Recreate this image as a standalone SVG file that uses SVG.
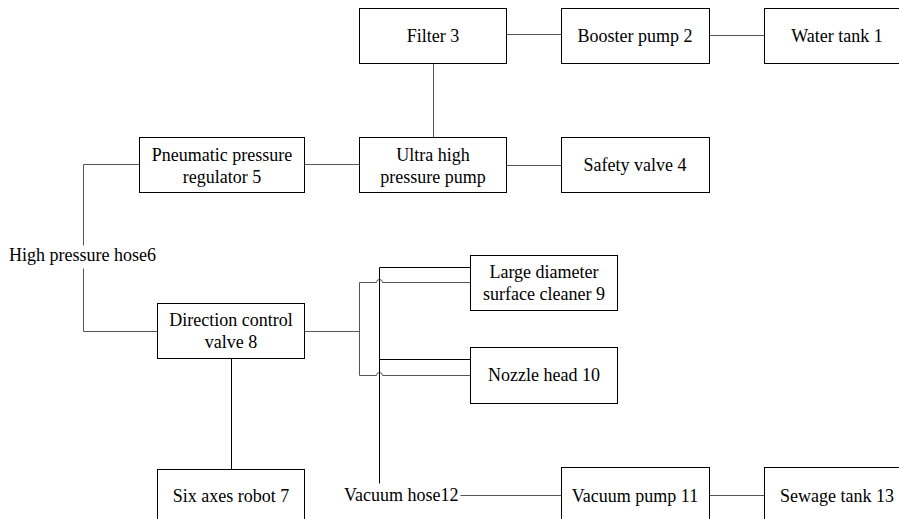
<svg xmlns="http://www.w3.org/2000/svg" width="899" height="519" viewBox="0 0 899 519">
<style>
text{font-family:'Liberation Serif','DejaVu Serif',serif;font-size:18px;fill:#000}
.t{text-anchor:middle}
.box{fill:#fff;stroke:#000;stroke-width:1}
.c{fill:none;stroke:#555;stroke-width:1}
.k{fill:none;stroke:#000;stroke-width:1}
</style>
<rect width="899" height="519" fill="#fff"/>
<g id="connectors">
<path class="c" d="M506.5 34.5H561.5"/>
<path class="c" d="M709.5 35.5H764.5"/>
<path class="c" d="M433.5 63.5V137.5"/>
<path class="c" d="M304.5 164.5H359.5"/>
<path class="c" d="M506.5 165.5H561.5"/>
<path class="c" d="M139.5 164.5H83.5V245.5"/>
<path class="c" d="M83.5 268.5V331.5H157.5"/>
<path class="k" d="M231.5 358.5V469.5"/>
<path class="c" d="M304.5 331.5H359.5"/>
<path class="c" d="M470.5 282.5H382.5A3 3 0 0 0 376.5 282.5H359.5V375.5H376.5A3 3 0 0 1 382.5 375.5H470.5"/>
<path class="k" d="M470.5 267.5H379.5V483.5"/>
<path class="k" d="M379.5 359.5H470.5"/>
<path class="c" d="M460.5 495.5H561.5"/>
<path class="c" d="M709.5 495.5H764.5"/>
</g>
<g id="filter3"><rect class="box" x="359.5" y="8.5" width="147" height="55"/><text class="t" x="433" y="42">Filter 3</text></g>
<g id="booster2"><rect class="box" x="561.5" y="8.5" width="148" height="55"/><text class="t" x="635" y="42">Booster pump 2</text></g>
<g id="tank1"><rect class="box" x="764.5" y="8.5" width="150" height="55"/><text class="t" x="837" y="42">Water tank 1</text></g>
<g id="pneumatic5"><rect class="box" x="139.5" y="137.5" width="165" height="55"/><text class="t" x="222" y="161">Pneumatic pressure</text><text class="t" x="222" y="183">regulator 5</text></g>
<g id="uhp"><rect class="box" x="359.5" y="137.5" width="147" height="55"/><text class="t" x="433" y="161">Ultra high</text><text class="t" x="433" y="183">pressure pump</text></g>
<g id="safety4"><rect class="box" x="561.5" y="137.5" width="148" height="55"/><text class="t" x="635" y="171">Safety valve 4</text></g>
<g id="hose6"><text x="9" y="261">High pressure hose6</text></g>
<g id="direction8"><rect class="box" x="157.5" y="303.5" width="147" height="55"/><text class="t" x="231" y="326">Direction control</text><text class="t" x="231" y="348">valve 8</text></g>
<g id="cleaner9"><rect class="box" x="470.5" y="255.5" width="147" height="55"/><text class="t" x="544" y="278">Large diameter</text><text class="t" x="544" y="300">surface cleaner 9</text></g>
<g id="nozzle10"><rect class="box" x="470.5" y="347.5" width="147" height="56"/><text class="t" x="544" y="381">Nozzle head 10</text></g>
<g id="robot7"><rect class="box" x="157.5" y="469.5" width="147" height="60"/><text class="t" x="231" y="502">Six axes robot 7</text></g>
<g id="hose12"><text x="344" y="501">Vacuum hose12</text></g>
<g id="vacuum11"><rect class="box" x="561.5" y="467.5" width="148" height="60"/><text class="t" x="635" y="502">Vacuum pump 11</text></g>
<g id="sewage13"><rect class="box" x="764.5" y="467.5" width="150" height="60"/><text class="t" x="837" y="502">Sewage tank 13</text></g>
</svg>
